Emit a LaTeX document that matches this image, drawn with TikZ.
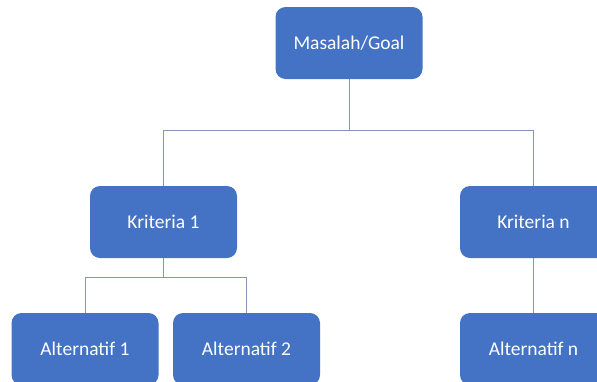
\documentclass[tikz,border=0pt]{standalone}
\usepackage{fontspec}
\setmainfont{Carlito}
\usetikzlibrary{positioning}
\definecolor{boxblue}{HTML}{4472C4}
\definecolor{linkgray}{HTML}{8497B8}

\begin{document}
\begin{tikzpicture}[x=1pt,y=-1pt,
	box/.style={fill=boxblue, rounded corners=10pt, minimum width=147pt, minimum height=72pt, text=white, font=\fontsize{19.5}{23}\selectfont, inner sep=0pt},
	link/.style={linkgray, line width=0.8pt}]
		\useasboundingbox (0,0) rectangle (597,381);
		\node[box] (goal) at (349,43) {Masalah/Goal};
		\node[box] (krit1) at (163.5,222) {Kriteria 1};
		\node[box] (kritn) at (533.5,222) {Kriteria n};
		\node[box] (alt1) at (85,349) {Alternatif 1};
		\node[box] (alt2) at (246.5,349) {Alternatif 2};
		\node[box] (altn) at (533.5,349) {Alternatif n};
		% connectors
		\draw[link] (goal.south) -- ++(0,51) -| (krit1.north);
		\draw[link] (goal.south) -- ++(0,51) -| (kritn.north);
		\draw[link] (krit1.south) -- ++(0,19) -| (alt1.north);
		\draw[link] (krit1.south) -- ++(0,19) -| (alt2.north);
		\draw[link] (kritn.south) -- (altn.north);
	\end{tikzpicture}
\end{document}
